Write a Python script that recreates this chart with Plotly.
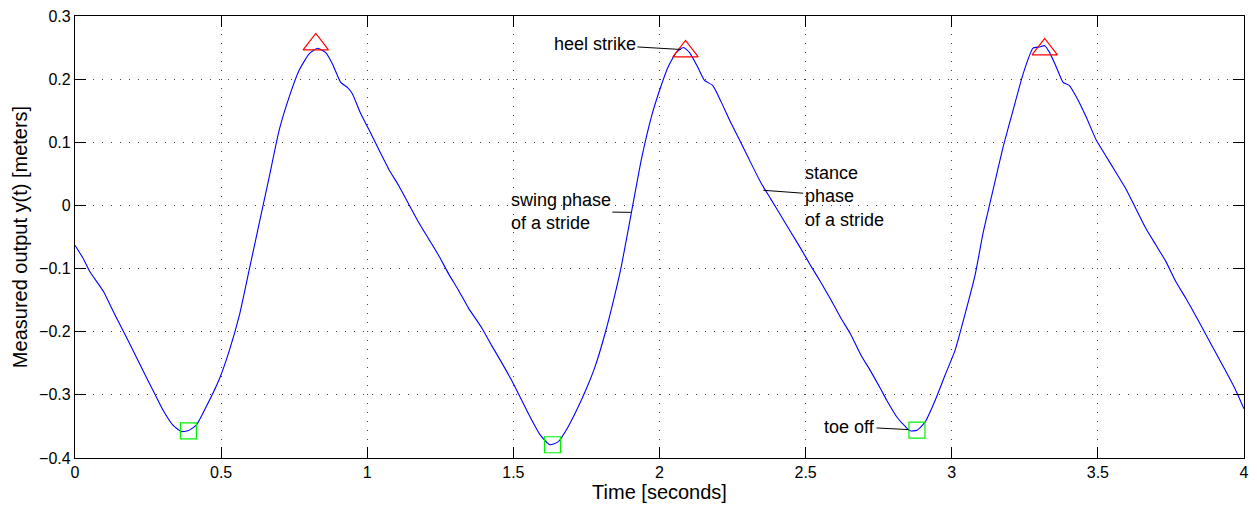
import plotly.graph_objects as go

# Measured vertical foot trajectory over four seconds of walking
time_s = [
    0.000, 0.028, 0.051, 0.097, 0.131, 0.165, 0.199, 0.233, 0.267, 0.301,
    0.335, 0.364, 0.386, 0.415, 0.449, 0.494, 0.528, 0.563, 0.597, 0.631,
    0.665, 0.699, 0.733, 0.767, 0.801, 0.830, 0.858, 0.881, 0.909, 0.932,
    0.949, 0.977, 1.006, 1.040, 1.074, 1.108, 1.142, 1.176, 1.210, 1.244,
    1.278, 1.313, 1.347, 1.392, 1.426, 1.460, 1.494, 1.529, 1.563, 1.591,
    1.625, 1.654, 1.688, 1.722, 1.750, 1.779, 1.813, 1.847, 1.870, 1.904,
    1.938, 1.972, 2.000, 2.029, 2.057, 2.082, 2.103, 2.131, 2.154, 2.182,
    2.211, 2.245, 2.279, 2.313, 2.347, 2.381, 2.415, 2.449, 2.483, 2.517,
    2.551, 2.586, 2.620, 2.654, 2.688, 2.722, 2.756, 2.778, 2.812, 2.841,
    2.858, 2.881, 2.909, 2.943, 2.977, 3.011, 3.045, 3.080, 3.108, 3.142,
    3.176, 3.210, 3.244, 3.278, 3.301, 3.318, 3.335, 3.358, 3.381, 3.402,
    3.426, 3.460, 3.494, 3.528, 3.562, 3.596, 3.631, 3.665, 3.699, 3.733,
    3.767, 3.801, 3.835, 3.869, 3.903, 3.937, 3.972, 4.000,
]
output_m = [
    -0.063, -0.084, -0.105, -0.136, -0.168, -0.199, -0.230, -0.262, -0.293, -0.324,
    -0.348, -0.358, -0.357, -0.348, -0.319, -0.275, -0.230, -0.173, -0.100, -0.027,
    0.046, 0.120, 0.172, 0.214, 0.240, 0.249, 0.242, 0.224, 0.195, 0.187,
    0.177, 0.146, 0.120, 0.088, 0.057, 0.031, 0.002, -0.027, -0.053, -0.079,
    -0.108, -0.135, -0.163, -0.194, -0.222, -0.249, -0.277, -0.309, -0.340, -0.363,
    -0.379, -0.374, -0.350, -0.319, -0.290, -0.256, -0.204, -0.142, -0.095, -0.011,
    0.073, 0.140, 0.182, 0.219, 0.242, 0.250, 0.242, 0.219, 0.198, 0.190,
    0.164, 0.130, 0.099, 0.067, 0.036, 0.010, -0.016, -0.042, -0.068, -0.095,
    -0.121, -0.149, -0.178, -0.204, -0.236, -0.262, -0.290, -0.309, -0.335, -0.350,
    -0.357, -0.356, -0.343, -0.309, -0.269, -0.230, -0.173, -0.110, -0.042, 0.026,
    0.093, 0.151, 0.208, 0.249, 0.251, 0.253, 0.242, 0.219, 0.195, 0.190,
    0.172, 0.140, 0.104, 0.078, 0.052, 0.026, -0.006, -0.037, -0.063, -0.089,
    -0.121, -0.147, -0.175, -0.204, -0.233, -0.262, -0.293, -0.322,
]

# Detected gait events
heel_strike_t = [0.824, 2.089, 3.318]
heel_strike_y = [0.255, 0.244, 0.247]
toe_off_t = [0.388, 1.634, 2.881]
toe_off_y = [-0.357, -0.379, -0.356]

x_ticks = [0, 0.5, 1, 1.5, 2, 2.5, 3, 3.5, 4]
y_ticks = [-0.4, -0.3, -0.2, -0.1, 0, 0.1, 0.2, 0.3]

FONT = "Liberation Sans, Arial, Helvetica, sans-serif"

fig = go.Figure()
fig.add_trace(go.Scatter(
    x=time_s, y=output_m, mode="lines",
    line=dict(color="#0000ff", width=1.1, shape="spline", smoothing=0.5),
    showlegend=False, hoverinfo="skip",
))
fig.add_trace(go.Scatter(
    x=heel_strike_t, y=heel_strike_y, mode="markers",
    marker=dict(symbol="triangle-up-open", size=22, color="#ff0000",
                line=dict(color="#ff0000", width=1.2)),
    showlegend=False,
))
fig.add_trace(go.Scatter(
    x=toe_off_t, y=toe_off_y, mode="markers",
    marker=dict(symbol="square-open", size=16, color="#00ee00",
                line=dict(color="#00ee00", width=1.2)),
    showlegend=False,
))

# Text callouts with leader lines
callouts = [
    # text, x, y, ax, ay
    ("heel strike", 2.073, 0.247, -86, -5),
    ("swing phase<br>of a stride", 1.902, -0.011, -70, -1),
    ("stance<br>phase<br>of a stride", 2.355, 0.024, 81, 6),
    ("toe off", 2.852, -0.355, -59, -3),
]
for text, xa, ya, axp, ayp in callouts:
    fig.add_annotation(
        x=xa, y=ya, ax=axp, ay=ayp, text=text,
        showarrow=True, arrowhead=0, arrowwidth=1, arrowcolor="black",
        standoff=0, align="left",
        font=dict(family=FONT, size=18, color="black"),
    )

axis_common = dict(
    showline=True, linecolor="black", linewidth=1.2, mirror="ticks",
    ticks="inside", ticklen=11, tickwidth=1, tickcolor="black",
    showgrid=True, gridcolor="#444444", gridwidth=1, griddash="1px,8px",
    zeroline=False,
    tickfont=dict(family=FONT, size=16, color="black"),
    title_font=dict(family=FONT, size=20, color="black"),
)

fig.update_xaxes(
    range=[0, 4], tickvals=x_ticks,
    ticktext=[f"{v:g}" for v in x_ticks],
    title_text="Time [seconds]", title_standoff=3,
    **axis_common,
)
fig.update_yaxes(
    range=[-0.4, 0.3], tickvals=y_ticks,
    ticktext=[("\u2212" if v < 0 else "") + f"{abs(v):g}" for v in y_ticks],
    title_text="Measured output y(t) [meters]", title_standoff=6,
    **axis_common,
)

fig.update_layout(
    width=1257, height=506,
    margin=dict(l=75, r=8, t=12, b=47),
    paper_bgcolor="white", plot_bgcolor="white",
    font=dict(family=FONT, color="black"),
)

fig.write_html("out.html")
